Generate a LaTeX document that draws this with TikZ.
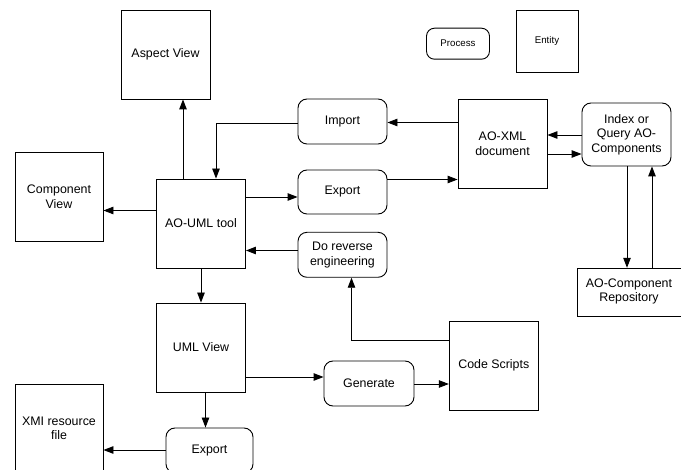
\documentclass[tikz,border=0pt]{standalone}
\usepackage{fontspec}
\setmainfont{Liberation Sans}
\usetikzlibrary{arrows.meta}
\begin{document}
\begin{tikzpicture}[x=1pt,y=-1pt,
  ent/.style={draw,line width=0.9pt,inner sep=0pt,align=center,font=\fontsize{12.4}{14.5}\selectfont},
  proc/.style={ent,rounded corners=9pt},
  arr/.style={line width=0.9pt,-{Triangle[length=10pt,width=7.5pt]}},
  small/.style={font=\fontsize{9.7}{11.5}\selectfont}]
\clip (0,0) rectangle (681,470);
\fill[white] (0,0) rectangle (681,470);
% entities
\node[ent,minimum width=89,minimum height=89] (aspect) at (165.5,54.5) {Aspect View};
\node[ent,minimum width=88,minimum height=89] (comp) at (59,196.5) {Component\\View};
\node[ent,minimum width=89,minimum height=89] (tool) at (201,223.5) {AO-UML tool};
\node[ent,minimum width=89,minimum height=89] (uml) at (201,347.5) {UML View};
\node[ent,minimum width=88,minimum height=89] (xmi) at (59,428.5) {XMI resource\\file};
\node[ent,minimum width=89,minimum height=89] (xml) at (502.5,143.5) {AO-XML\\document};
\node[ent,minimum width=89,minimum height=89] (code) at (493.8,365.6) {Code Scripts};
\node[ent,minimum width=115,minimum height=48.5] (repo) at (635,292.5) {};
\node[font=\fontsize{12.4}{14.5}\selectfont,align=center] (repotext) at (629,291.5) {AO-Component\\Repository};
\node[ent,small,minimum width=62,minimum height=62] (entity) at (547,41.3) {Entity};
% processes
\node[proc,minimum width=89,minimum height=45] (import) at (342.5,121.5) {Import};
\node[proc,minimum width=89,minimum height=44] (export1) at (342.5,192) {Export};
\node[proc,minimum width=89,minimum height=45] (rev) at (342.5,254.8) {Do reverse\\engineering};
\node[proc,minimum width=89,minimum height=63] (index) at (626.5,134.5) {Index or\\Query AO-\\Components};
\node[proc,minimum width=90,minimum height=45] (gen) at (369,383.5) {Generate};
\node[proc,minimum width=87,minimum height=45] (export2) at (209.5,450.5) {Export};
\node[proc,small,minimum width=63,minimum height=31,rounded corners=8pt] (process) at (458,43.7) {Process};
% connectors
\draw[arr] (tool.north -| 183,0) -- (aspect.south -| 183,0);
\draw[arr] (import.west |- 0,123) -| (tool.north -| 216,0);
\draw[arr] (tool.west |- 0,210.5) -- (comp.east |- 0,210.5);
\draw[arr] (tool.east |- 0,197) -- (export1.west |- 0,197);
\draw[arr] (export1.east |- 0,179.5) -- (xml.west |- 0,179.5);
\draw[arr] (xml.west |- 0,122.5) -- (import.east |- 0,122.5);
\draw[arr] (index.west |- 0,135) -- (xml.east |- 0,135);
\draw[arr] (xml.east |- 0,154) -- (index.west |- 0,154);
\draw[arr] (index.south -| 627,0) -- (repo.north -| 627,0);
\draw[arr] (repo.north -| 652,0) -- (index.south -| 652,0);
\draw[arr] (rev.west |- 0,250.5) -- (tool.east |- 0,250.5);
\draw[arr] (tool.south) -- (uml.north);
\draw[arr] (uml.east |- 0,377) -- (gen.west |- 0,377);
\draw[arr] (gen.east |- 0,384) -- (code.west |- 0,384);
\draw[arr] (code.west |- 0,340) -| (rev.south -| 351.5,0);
\draw[arr] (uml.south -| 205.5,0) -- (export2.north -| 205.5,0);
\draw[arr] (export2.west |- 0,450) -- (xmi.east |- 0,450);
\end{tikzpicture}
\end{document}
